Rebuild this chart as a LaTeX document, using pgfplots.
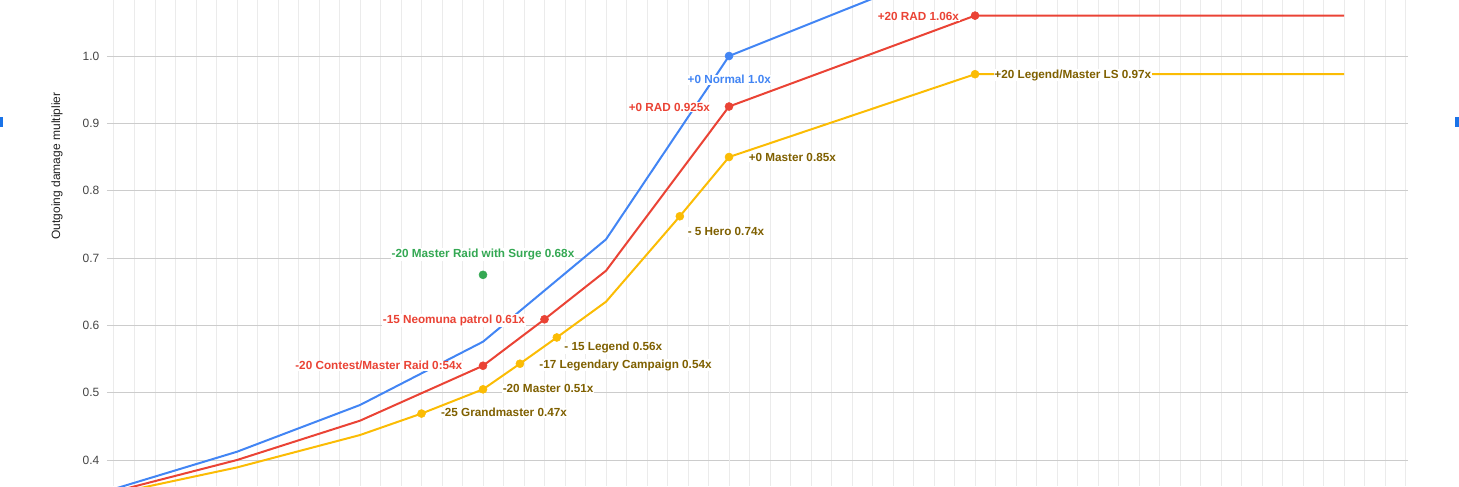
\documentclass[border=0pt]{standalone}
\usepackage{fontspec}
\setmainfont{Liberation Sans}
\usepackage{pgfplots}
\pgfplotsset{compat=1.18}
\definecolor{cblue}{HTML}{4285F4}
\definecolor{cred}{HTML}{EA4335}
\definecolor{cyel}{HTML}{FBBC04}
\definecolor{cgreen}{HTML}{34A853}
\definecolor{colive}{RGB}{127,96,0}
\definecolor{vgrid}{HTML}{EBEBEB}
\definecolor{hgrid}{HTML}{CCCCCC}
\definecolor{ticktext}{HTML}{444444}
\definecolor{handle}{HTML}{1A73E8}
\tikzset{lbl/.style={font=\bfseries\fontsize{8.8pt}{10pt}\selectfont, inner sep=0.6pt, fill=white, yshift=-3.15pt}}
\begin{document}
\begin{tikzpicture}
\path[use as bounding box] (-80.25pt,0) rectangle (1014pt,364.5pt);
\begin{axis}[
  at={(0,0)}, anchor=south west, scale only axis,
  width=975.75pt, height=364.5pt,
  xmin=-50.569, xmax=55.2, ymin=0.3614, ymax=1.0832,
  axis line style={draw=none},
  xtick={-50,-48.3333,-46.6667,-45,-43.3333,-41.6667,-40,-38.3333,-36.6667,-35,-33.3333,-31.6667,-30,-28.3333,-26.6667,-25,-23.3333,-21.6667,-20,-18.3333,-16.6667,-15,-13.3333,-11.6667,-10,-8.3333,-6.6667,-5,-3.3333,-1.6667,0,1.6667,3.3333,5,6.6667,8.3333,10,11.6667,13.3333,15,16.6667,18.3333,20,21.6667,23.3333,25,26.6667,28.3333,30,31.6667,33.3333,35,36.6667,38.3333,40,41.6667,43.3333,45,46.6667,48.3333,50,51.6667,53.3333,55},
  xticklabels={},
  ytick={0.4,0.5,0.6,0.7,0.8,0.9,1.0},
  major tick length=0pt,
  xmajorgrids, ymajorgrids,
  x grid style={vgrid, line width=0.75pt},
  y grid style={hgrid, line width=0.75pt},
  extra x ticks={0}, extra x tick labels={},
  extra x tick style={grid style={black, line width=0.75pt}},
  yticklabel style={font=\fontsize{9pt}{10pt}\selectfont, text=ticktext, xshift=-2.25pt,
    /pgf/number format/fixed, /pgf/number format/fixed zerofill,
    /pgf/number format/precision=1, /pgf/number format/assume math mode=true},
]
% lines
\addplot[cblue, line width=1.5pt, line join=round] coordinates {
 (-50,0.357) (-40,0.4123) (-30,0.4817) (-20,0.5757) (-10,0.7277) (0,1.0) (20,1.146) (50,1.146)};
\addplot[cred, line width=1.5pt, line join=round] coordinates {
 (-50,0.353) (-40,0.400) (-30,0.4584) (-20,0.540) (-15,0.609) (-10,0.6811) (0,0.925) (20,1.06) (50,1.06)};
\addplot[cyel, line width=1.5pt, line join=round] coordinates {
 (-50,0.350) (-40,0.389) (-30,0.4371) (-25,0.469) (-20,0.505) (-17,0.543) (-14,0.582) (-10,0.6351) (-4,0.762) (0,0.85) (20,0.973) (50,0.973)};
% marks
\addplot[only marks, mark=*, mark size=3pt, cblue, mark options={draw=none, fill=cblue}] coordinates {(0,1.0)};
\addplot[only marks, mark=*, mark size=3pt, cred, mark options={draw=none, fill=cred}] coordinates {(-20,0.540) (-15,0.609) (0,0.925) (20,1.06)};
\addplot[only marks, mark=*, mark size=3pt, cyel, mark options={draw=none, fill=cyel}] coordinates {(-25,0.469) (-20,0.505) (-17,0.543) (-14,0.582) (-4,0.762) (0,0.85) (20,0.973)};
\addplot[only marks, mark=*, mark size=3pt, cgreen, mark options={draw=none, fill=cgreen}] coordinates {(-20,0.675)};
% labels
\node[lbl, text=cblue, anchor=base] at (axis cs:0.02,0.9648) {+0 Normal 1.0x};
\node[lbl, text=cred, anchor=base east] at (axis cs:-1.463,0.9243) {+0 RAD 0.925x};
\node[lbl, text=colive, anchor=base west] at (axis cs:1.52,0.850) {+0 Master 0.85x};
\node[lbl, text=colive, anchor=base west] at (axis cs:-3.44,0.739) {- 5 Hero 0.74x};
\node[lbl, text=cgreen, anchor=base] at (axis cs:-20,0.707) {-20 Master Raid with Surge 0.68x};
\node[lbl, text=cred, anchor=base east] at (axis cs:-16.5,0.609) {-15 Neomuna patrol 0.61x};
\node[lbl, text=colive, anchor=base west] at (axis cs:-13.47,0.5683) {- 15 Legend 0.56x};
\node[lbl, text=cred, anchor=base east] at (axis cs:-21.6,0.540) {-20 Contest/Master Raid 0:54x};
\node[lbl, text=colive, anchor=base west] at (axis cs:-15.5,0.5426) {-17 Legendary Campaign 0.54x};
\node[lbl, text=colive, anchor=base west] at (axis cs:-18.48,0.5065) {-20 Master 0.51x};
\node[lbl, text=colive, anchor=base west] at (axis cs:-23.5,0.4702) {-25 Grandmaster 0.47x};
\node[lbl, text=cred, anchor=base east] at (axis cs:18.78,1.0594) {+20 RAD 1.06x};
\node[lbl, text=colive, anchor=base west] at (axis cs:21.49,0.9733) {+20 Legend/Master LS 0.97x};
\end{axis}
\node[rotate=90, font=\fontsize{9pt}{10pt}\selectfont, text=black!87] at (-37.5pt,240pt) {Outgoing damage multiplier};
\fill[handle] (-80.25pt,269.25pt) rectangle (-78pt,276.75pt);
\fill[handle] (1011pt,269.25pt) rectangle (1014pt,276.75pt);
\end{tikzpicture}
\end{document}
